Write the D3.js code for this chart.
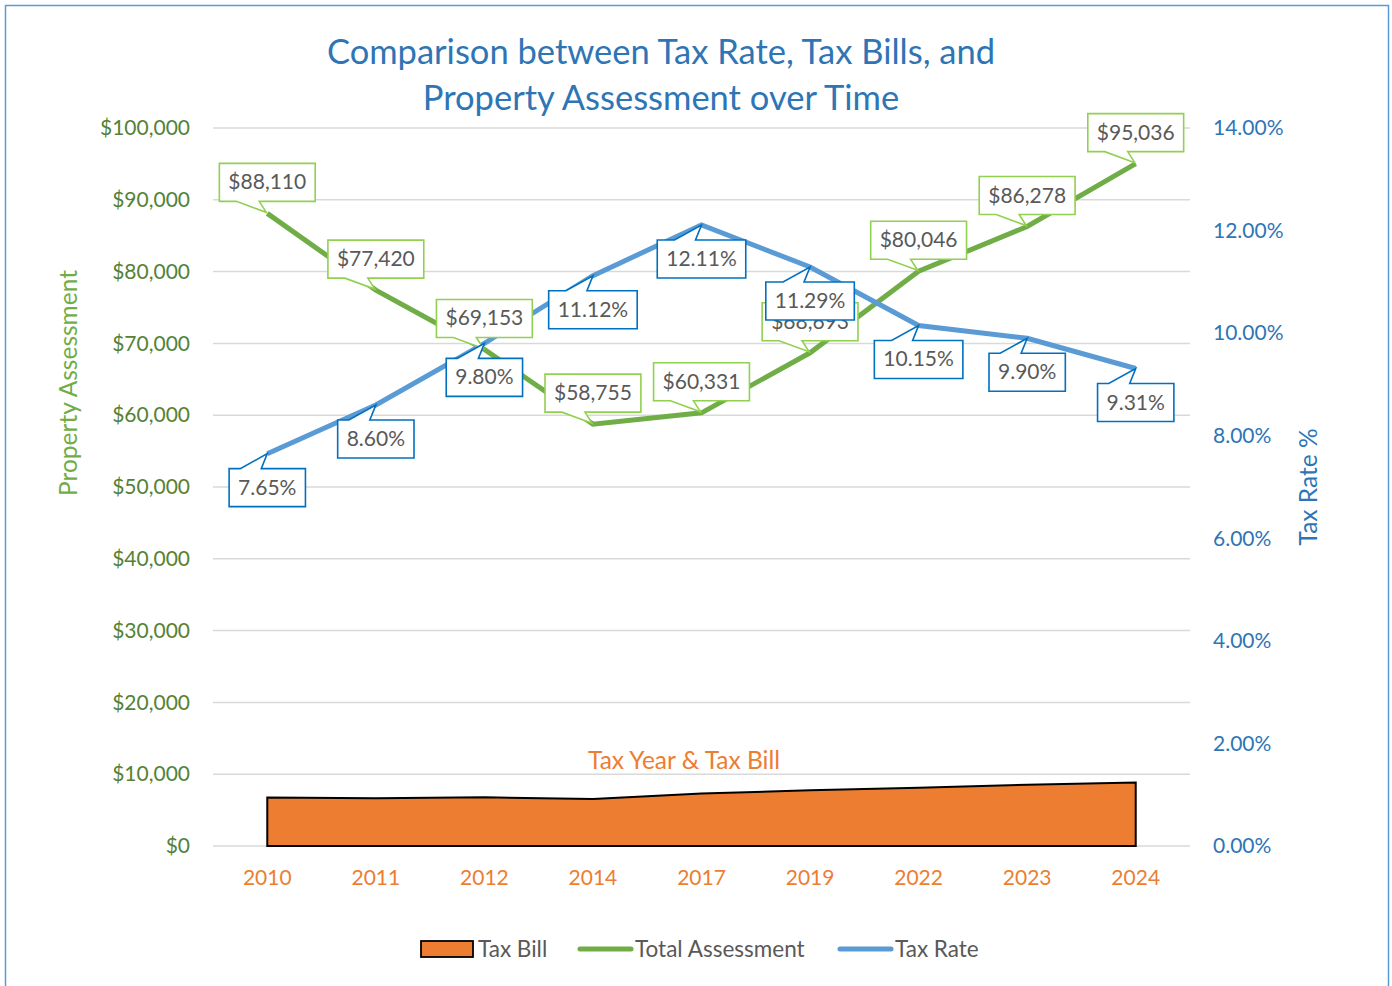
<!DOCTYPE html>
<html lang="en">
  <head>
    <meta charset="UTF-8">
    <title>Tax Rate, Tax Bills and Property Assessment</title>
    <style>
      body { margin: 0; background: #fff; }
      text { font-family: Lato, "Open Sans", sans-serif; }
      .axis path, .axis line { display: none; }
      .grid line { stroke: #d9d9d9; stroke-width: 1.5; }
    </style>
    <script src="https://d3js.org/d3.v7.min.js"></script>
  </head>
  <body>
    <script>
      // chart values
      const years = ["2010", "2011", "2012", "2014", "2017", "2019", "2022", "2023", "2024"];
      const assessment = [88110, 77420, 69153, 58755, 60331, 68693, 80046, 86278, 95036];
      const taxRate = [7.65, 8.60, 9.80, 11.12, 12.11, 11.29, 10.15, 9.90, 9.31];
      const taxBill = [6740, 6658, 6777, 6533, 7306, 7755, 8125, 8542, 8848];
      const leftTicks = [0, 10000, 20000, 30000, 40000, 50000, 60000, 70000, 80000, 90000, 100000];
      const rightTicks = [0, 2, 4, 6, 8, 10, 12, 14];
      const legendItems = ["Tax Bill", "Total Assessment", "Tax Rate"];

      const W = 1392, H = 986;
      const plot = { left: 213, right: 1190, top: 128, bottom: 846 };

      const c = {
        green: "#70ad47", greenText: "#548235", greenBox: "#92d050",
        blue: "#5b9bd5", blueText: "#2e75b6", blueBox: "#0070c0",
        orange: "#ed7d31", label: "#595959"
      };

      const svg = d3.select("body").append("svg")
        .attr("width", W)
        .attr("height", H);

      svg.append("rect")
        .attr("x", 5.5).attr("y", 5.5)
        .attr("width", 1383).attr("height", 995)
        .attr("fill", "#fff")
        .attr("stroke", c.blue)
        .attr("stroke-width", 1.5);

      const x = d3.scaleBand().domain(years).range([plot.left, plot.right]);
      const cx = d => x(d) + x.bandwidth() / 2;
      const y = d3.scaleLinear().domain([0, 100000]).range([plot.bottom, plot.top]);
      const yR = d3.scaleLinear().domain([0, 14]).range([plot.bottom, plot.top]);

      // title
      svg.append("text")
        .attr("text-anchor", "middle")
        .attr("fill", c.blueText)
        .attr("font-size", 34.5)
        .selectAll("tspan")
        .data(["Comparison between Tax Rate, Tax Bills, and", "Property Assessment over Time"])
        .join("tspan")
        .attr("x", 661)
        .attr("y", (d, i) => 64 + i * 46)
        .text(d => d);

      // gridlines
      svg.append("g").attr("class", "grid")
        .selectAll("line")
        .data(leftTicks)
        .join("line")
        .attr("x1", plot.left).attr("x2", plot.right)
        .attr("y1", d => y(d)).attr("y2", d => y(d));

      // axes
      svg.append("g").attr("class", "axis")
        .attr("transform", `translate(${plot.left},0)`)
        .call(d3.axisLeft(y).tickValues(leftTicks).tickSize(0).tickPadding(23)
          .tickFormat(d => "$" + d3.format(",")(d)))
        .selectAll("text")
        .attr("font-size", 21).attr("fill", c.greenText).attr("font-family", "Lato");

      svg.append("g").attr("class", "axis")
        .attr("transform", `translate(${plot.right},0)`)
        .call(d3.axisRight(yR).tickValues(rightTicks).tickSize(0).tickPadding(23)
          .tickFormat(d => d.toFixed(2) + "%"))
        .selectAll("text")
        .attr("font-size", 21).attr("fill", c.blueText).attr("font-family", "Lato");

      svg.append("g").attr("class", "axis")
        .attr("transform", `translate(0,${plot.bottom})`)
        .call(d3.axisBottom(x).tickSize(0).tickPadding(24))
        .selectAll("text")
        .attr("font-size", 21).attr("fill", c.orange).attr("font-family", "Lato");

      // axis titles
      svg.append("text")
        .attr("transform", "translate(77,383) rotate(-90)")
        .attr("text-anchor", "middle")
        .attr("font-size", 24.5)
        .attr("fill", c.green)
        .text("Property Assessment");

      svg.append("text")
        .attr("transform", "translate(1317,487) rotate(-90)")
        .attr("text-anchor", "middle")
        .attr("font-size", 24.5)
        .attr("fill", c.blueText)
        .text("Tax Rate %");

      // tax bill area
      const area = d3.area()
        .x((d, i) => cx(years[i]))
        .y0(y(0))
        .y1(d => y(d));

      svg.append("path")
        .datum(taxBill)
        .attr("d", area)
        .attr("fill", c.orange)
        .attr("stroke", "#000")
        .attr("stroke-width", 2);

      svg.append("text")
        .attr("x", 684).attr("y", 769)
        .attr("text-anchor", "middle")
        .attr("font-size", 24.5)
        .attr("fill", c.orange)
        .text("Tax Year & Tax Bill");

      // lines
      const line = scale => d3.line()
        .x((d, i) => cx(years[i]))
        .y(d => scale(d));

      svg.append("path")
        .datum(assessment)
        .attr("d", line(y))
        .attr("fill", "none")
        .attr("stroke", c.green)
        .attr("stroke-width", 5);

      svg.append("path")
        .datum(taxRate)
        .attr("d", line(yR))
        .attr("fill", "none")
        .attr("stroke", c.blue)
        .attr("stroke-width", 5);

      // callouts
      function callout(px, py, label, color, above) {
        const g = svg.append("g");
        const t = g.append("text")
          .attr("font-size", 21)
          .attr("fill", c.label)
          .attr("text-anchor", "middle")
          .text(label);
        const w = t.node().getComputedTextLength() + 18;
        const h = 38;
        const x0 = px - w / 2, x1 = px + w / 2;
        let d;
        if (above) {
          const y1 = py - 12, y0 = y1 - h;
          d = `M${x0},${y0}H${x1}V${y1}H${px - 8}L${px - 1},${py - 1}L${px - 31},${y1}H${x0}Z`;
          t.attr("x", px).attr("y", y0 + h / 2 + 7);
        } else {
          const y0 = py + 15, y1 = y0 + h;
          d = `M${x0},${y0}H${px - 27}L${px},${py}L${px - 6},${y0}H${x1}V${y1}H${x0}Z`;
          t.attr("x", px).attr("y", y0 + h / 2 + 7);
        }
        g.insert("path", "text")
          .attr("d", d)
          .attr("fill", "#fff")
          .attr("stroke", color)
          .attr("stroke-width", 1.6);
      }

      assessment.forEach((v, i) =>
        callout(cx(years[i]), y(v), "$" + d3.format(",")(v), c.greenBox, true));
      taxRate.forEach((v, i) =>
        callout(cx(years[i]), yR(v), v.toFixed(2) + "%", c.blueBox, false));

      // legend
      const leg = svg.append("g").attr("font-size", 22.5).attr("fill", c.label);
      const legX = [421, 578, 838];
      legendItems.forEach((name, i) => {
        if (i === 0) {
          leg.append("rect")
            .attr("x", legX[i]).attr("y", 941)
            .attr("width", 52).attr("height", 16)
            .attr("fill", c.orange).attr("stroke", "#000").attr("stroke-width", 1.8);
        } else {
          leg.append("line")
            .attr("x1", legX[i] + 2).attr("x2", legX[i] + 53)
            .attr("y1", 949).attr("y2", 949)
            .attr("stroke", i === 1 ? c.green : c.blue)
            .attr("stroke-width", 5)
            .attr("stroke-linecap", "round");
        }
        leg.append("text")
          .attr("x", legX[i] + 57).attr("y", 957)
          .attr("fill", c.label)
          .text(name);
      });
    </script>
  </body>
</html>
